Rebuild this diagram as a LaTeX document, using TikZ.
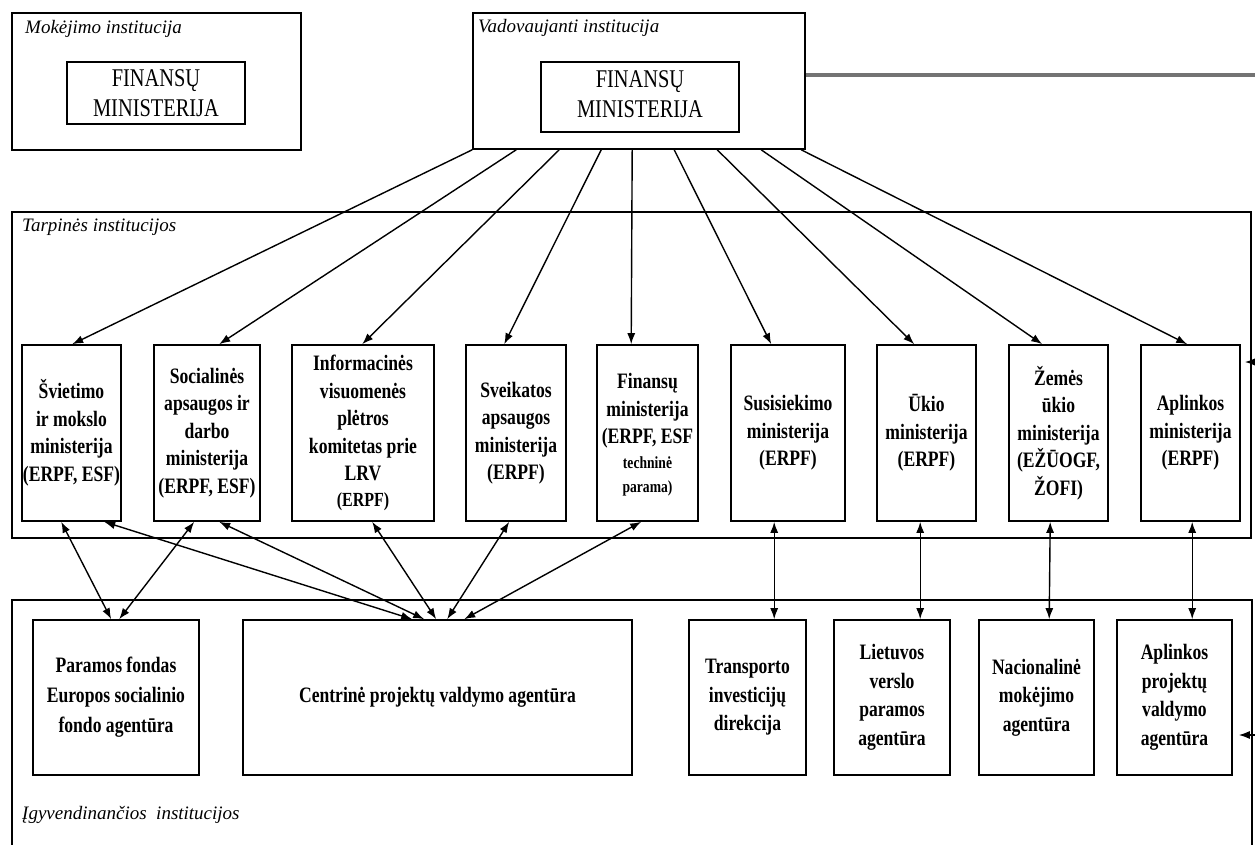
\documentclass[tikz,border=0pt]{standalone}
\usepackage{fontspec}
\setmainfont{Liberation Serif}
\newfontfamily\boxfont[FakeStretch=0.8]{Liberation Serif}
\usetikzlibrary{arrows.meta,calc}
\begin{document}
\begin{tikzpicture}[x=1pt,y=-1pt,
  frame/.style={draw, line width=1.6pt},
  inst/.style={draw, line width=1.6pt, inner sep=0pt, align=center,
    font={\boxfont\bfseries\fontsize{22}{27.5}\selectfont}},
  minbox/.style={draw, line width=1.6pt, inner sep=0pt, align=center,
    font={\boxfont\fontsize{25.5}{30}\selectfont}},
  lab/.style={anchor=west, inner sep=0pt, font={\itshape\fontsize{19}{22}\selectfont}},
  arr/.style={line width=1.4pt, -{Latex[length=11pt,width=8pt]}},
  darr/.style={line width=1.4pt, {Latex[length=11pt,width=8pt]}-{Latex[length=11pt,width=8pt]}}
]
\useasboundingbox (0,0) rectangle (1255,845);
\fill[white] (0,0) rectangle (1255,845);

% top frames
\node[frame, minimum width=289pt, minimum height=137pt, inner sep=0pt] (mok) at (156.5,81.5) {};
\node[lab] (lmok) at (25,29) {Mokėjimo institucija};
\node[minbox, minimum width=178pt, minimum height=62pt] (fm1) at (156,93) {FINANSŲ\\MINISTERIJA};

\node[frame, minimum width=332pt, minimum height=136pt, inner sep=0pt] (vad) at (639,81) {};
\node[lab] (lvad) at (478,28) {Vadovaujanti institucija};
\node[minbox, minimum width=198pt, minimum height=70pt, text depth=6pt] (fm2) at (640,97) {FINANSŲ\\MINISTERIJA};

\coordinate (redge) at (1256,75);
\draw[line width=3.5pt, black!55] (vad.east |- redge) -- (redge);

% Tarpines frame
\node[frame, minimum width=1239pt, minimum height=326pt, inner sep=0pt] (tarp) at (631.5,375) {};
\node[lab] (ltarp) at (22,227) {Tarpinės institucijos};

% ministries
\node[inst, minimum width=99pt, minimum height=176pt] (m1) at (71.5,433) {Švietimo\\ir mokslo\\ministerija\\(ERPF, ESF)};
\node[inst, minimum width=106pt, minimum height=176pt] (m2) at (207,433) {Socialinės\\apsaugos ir\\darbo\\ministerija\\(ERPF, ESF)};
\node[inst, minimum width=142pt, minimum height=176pt] (m3) at (363,433) {Informacinės\\visuomenės\\plėtros\\komitetas prie\\LRV\\[-2pt]{\fontsize{20}{24}\selectfont (ERPF)}};
\node[inst, minimum width=100pt, minimum height=176pt] (m4) at (516,433) {Sveikatos\\apsaugos\\ministerija\\(ERPF)};
\node[inst, minimum width=101pt, minimum height=176pt, text depth=-6pt] (m5) at (647.5,433) {Finansų\\ministerija\\(ERPF, ESF\\[-3pt]{\fontsize{17}{21}\selectfont techninė}\\[-3pt]{\fontsize{17}{21}\selectfont parama)}};
\node[inst, minimum width=114pt, minimum height=176pt] (m6) at (788,433) {Susisiekimo\\ministerija\\(ERPF)};
\node[inst, minimum width=99pt, minimum height=176pt] (m7) at (926.5,433) {Ūkio\\ministerija\\(ERPF)};
\node[inst, minimum width=99pt, minimum height=176pt] (m8) at (1058.5,433) {Žemės\\ūkio\\ministerija\\(EŽŪOGF,\\ŽOFI)};
\node[inst, minimum width=99pt, minimum height=176pt] (m9) at (1190.5,433) {Aplinkos\\ministerija\\(ERPF)};

% Igyvendinancios frame (open at bottom)
\coordinate (igbl) at (12,850);
\coordinate (igtl) at (12,600);
\coordinate (igtr) at (1252,600);
\coordinate (igbr) at (1252,850);
\draw[line width=1.6pt] (igbl) -- (igtl) -- (igtr) -- (igbr);
\node[lab] (lig) at (22,815) {Įgyvendinančios\ \ institucijos};

% agencies
\node[inst, minimum width=166pt, minimum height=155pt, font={\boxfont\bfseries\fontsize{22}{30}\selectfont}] (a1) at (116,697.5) {Paramos fondas\\Europos socialinio\\fondo agentūra};
\node[inst, minimum width=389pt, minimum height=155pt] (a2) at (437.5,697.5) {Centrinė projektų valdymo agentūra};
\node[inst, minimum width=117pt, minimum height=155pt, font={\boxfont\bfseries\fontsize{22}{28.5}\selectfont}] (a3) at (747.5,697.5) {Transporto\\investicijų\\direkcija};
\node[inst, minimum width=116pt, minimum height=155pt, font={\boxfont\bfseries\fontsize{22}{28.5}\selectfont}] (a4) at (892,697.5) {Lietuvos\\verslo\\paramos\\agentūra};
\node[inst, minimum width=115pt, minimum height=155pt, font={\boxfont\bfseries\fontsize{22}{28.5}\selectfont}] (a5) at (1036.5,697.5) {Nacionalinė\\mokėjimo\\agentūra};
\node[inst, minimum width=115pt, minimum height=155pt, font={\boxfont\bfseries\fontsize{22}{28.5}\selectfont}] (a6) at (1174.5,697.5) {Aplinkos\\projektų\\valdymo\\agentūra};

% arrows from managing authority to ministries
\draw[arr] ([xshift=0pt]vad.south west) -- ([xshift=51pt]m1.north west);
\draw[arr] ([xshift=44pt]vad.south west) -- ([xshift=66pt]m2.north west);
\draw[arr] ([xshift=87pt]vad.south west) -- ([xshift=71pt]m3.north west);
\draw[arr] ([xshift=129pt]vad.south west) -- ([xshift=39pt]m4.north west);
\draw[arr] ([xshift=160pt]vad.south west) -- ([xshift=35pt]m5.north west);
\draw[arr] ([xshift=202pt]vad.south west) -- ([xshift=41pt]m6.north west);
\draw[arr] ([xshift=245pt]vad.south west) -- ([xshift=38pt]m7.north west);
\draw[arr] ([xshift=289pt]vad.south west) -- ([xshift=34pt]m8.north west);
\draw[arr] ([xshift=329pt]vad.south west) -- ([xshift=47pt]m9.north west);

% double arrows ministries <-> agencies
\draw[darr] ([xshift=40pt]m1.south west) -- ([xshift=79pt]a1.north west);
\draw[darr] ([xshift=41pt]m2.south west) -- ([xshift=87pt]a1.north west);
\draw[darr] ([xshift=83pt]m1.south west) -- ([xshift=170pt]a2.north west);
\draw[darr] ([xshift=66pt]m2.south west) -- ([xshift=182pt]a2.north west);
\draw[darr] ([xshift=81pt]m3.south west) -- ([xshift=194pt]a2.north west);
\draw[darr] ([xshift=44pt]m4.south west) -- ([xshift=205pt]a2.north west);
\draw[darr] ([xshift=45pt]m5.south west) -- ([xshift=222pt]a2.north west);
\draw[darr] ([xshift=44pt]m6.south west) -- ([xshift=86pt]a3.north west);
\draw[darr] ([xshift=44pt]m7.south west) -- ([xshift=87pt]a4.north west);
\draw[darr] ([xshift=42pt]m8.south west) -- ([xshift=71pt]a5.north west);
\draw[darr] ([xshift=52pt]m9.south west) -- ([xshift=76pt]a6.north west);

% arrows entering from the right edge
\coordinate (rin1) at (1256,362);
\coordinate (rin2) at (1256,735);
\draw[arr] (rin1) -- ([xshift=4pt]m9.east |- rin1);
\draw[arr] (rin2) -- ([xshift=6pt]a6.east |- rin2);
\end{tikzpicture}
\end{document}
